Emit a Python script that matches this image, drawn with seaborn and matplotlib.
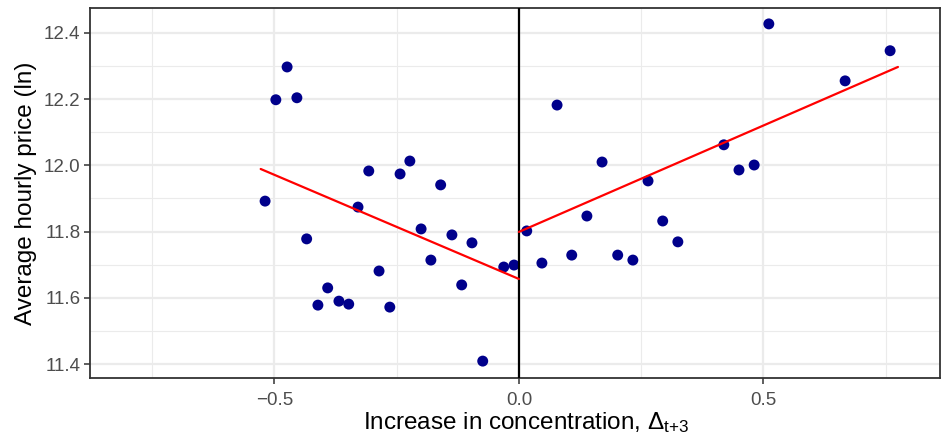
import matplotlib
matplotlib.use("Agg")
import matplotlib.pyplot as plt
from matplotlib.ticker import FixedLocator
import seaborn as sns
import pandas as pd

# Data
x_vals = [-0.519, -0.497, -0.474, -0.454, -0.434, -0.411, -0.391, -0.368, -0.348,
          -0.329, -0.307, -0.286, -0.264, -0.243, -0.223, -0.200, -0.180, -0.160,
          -0.137, -0.117, -0.096, -0.074, -0.031, -0.010,
          0.016, 0.047, 0.078, 0.108, 0.139, 0.170, 0.202, 0.233, 0.264, 0.294,
          0.325, 0.419, 0.450, 0.481, 0.511, 0.667, 0.759]
y_vals = [11.892, 12.198, 12.297, 12.204, 11.778, 11.578, 11.630, 11.590, 11.581,
          11.874, 11.983, 11.681, 11.572, 11.974, 12.013, 11.808, 11.714, 11.941,
          11.790, 11.639, 11.766, 11.409, 11.693, 11.699,
          11.802, 11.705, 12.182, 11.729, 11.847, 12.010, 11.729, 11.714, 11.953,
          11.832, 11.769, 12.062, 11.986, 12.001, 12.427, 12.255, 12.346]

fit_left_x = [-0.528, 0.0]
fit_left_y = [11.989, 11.657]
fit_right_x = [0.0, 0.775]
fit_right_y = [11.799, 12.297]

x_ticks = [-0.5, 0.0, 0.5]
x_tick_labels = ["\u22120.5", "0.0", "0.5"]
y_ticks = [11.4, 11.6, 11.8, 12.0, 12.2, 12.4]
y_tick_labels = ["11.4", "11.6", "11.8", "12.0", "12.2", "12.4"]

sns.set_theme(style="white")
plt.rcParams['font.family'] = ['Liberation Sans', 'DejaVu Sans']
plt.rcParams['mathtext.fontset'] = 'custom'
plt.rcParams['mathtext.rm'] = 'Liberation Sans'
plt.rcParams['mathtext.it'] = 'Liberation Sans:italic'

fig = plt.figure(figsize=(9.41, 4.41), dpi=100)
ax = fig.add_axes([90/941, (441-378)/441, (940-90)/941, (378-8)/441])

pts = pd.DataFrame({"x": x_vals, "y": y_vals})
left = pd.DataFrame({"x": fit_left_x, "y": fit_left_y})
right = pd.DataFrame({"x": fit_right_x, "y": fit_right_y})

ax.set_axisbelow(True)
ax.set_xlim(-0.877, 0.861)
ax.set_ylim(11.358, 12.475)
ax.set_xticks(x_ticks)
ax.set_xticklabels(x_tick_labels)
ax.set_yticks(y_ticks)
ax.set_yticklabels(y_tick_labels)
ax.xaxis.set_minor_locator(FixedLocator([-0.75, -0.25, 0.25, 0.75]))
ax.yaxis.set_minor_locator(FixedLocator([11.5, 11.7, 11.9, 12.1, 12.3]))
ax.grid(True, which='major', color='#EBEBEB', linewidth=1.6)
ax.grid(True, which='minor', color='#EBEBEB', linewidth=0.8)
ax.tick_params(which='minor', length=0)
ax.tick_params(which='major', length=4, width=1.1, color='#333333',
               labelsize=13.5, labelcolor='#4D4D4D', direction='out',
               bottom=True, left=True)
ax.tick_params(axis='x', pad=6)
ax.tick_params(axis='y', pad=3)

sns.scatterplot(data=pts, x="x", y="y", ax=ax, color="#00008B", s=62,
                edgecolor="none", zorder=3)
ax.axvline(0, color="black", linewidth=1.6, zorder=4)
sns.lineplot(data=left, x="x", y="y", ax=ax, color="red", linewidth=1.6,
             zorder=5, estimator=None, sort=False)
sns.lineplot(data=right, x="x", y="y", ax=ax, color="red", linewidth=1.6,
             zorder=5, estimator=None, sort=False)

for s in ax.spines.values():
    s.set_color('#333333')
    s.set_linewidth(1.3)

ax.set_xlabel(r"Increase in concentration, $\mathrm{\Delta}_{\mathrm{t{+}3}}$",
              fontsize=17.5, color='black', labelpad=1)
ax.xaxis.label.set_x(0.513)
ax.set_ylabel("Average hourly price (ln)", fontsize=17.5, color='black', labelpad=5)

fig.savefig("out.png", dpi=100)
